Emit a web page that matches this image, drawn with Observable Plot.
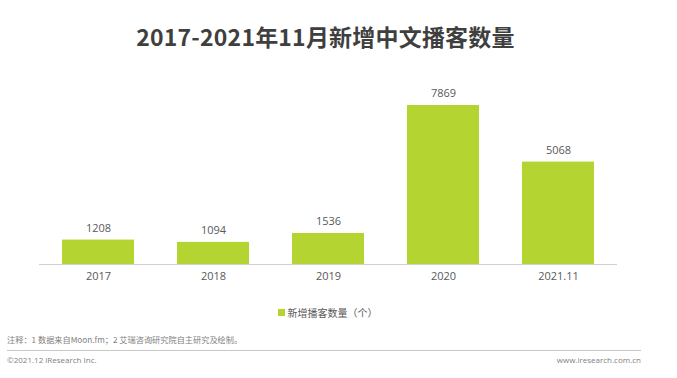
<!DOCTYPE html>
<html>
<head>
<meta charset="utf-8">
<script src="https://cdn.jsdelivr.net/npm/d3@7"></script>
<script src="https://cdn.jsdelivr.net/npm/@observablehq/plot@0.6"></script>
<style>
  html, body { margin: 0; padding: 0; background: #fff; }
  body { width: 677px; height: 378px; position: relative; overflow: hidden; font-family: "Noto Sans CJK SC", "Noto Sans", sans-serif; }
  #title { position: absolute; top: 19px; left: 0; width: 651px; text-align: center; font-size: 23px; font-weight: bold; color: #3f3f3f; letter-spacing: 0.2px; }
  #chart { position: absolute; top: 80px; left: 0; }
  #legend { position: absolute; top: 305px; left: 0; width: 677px; text-align: center; font-size: 10px; color: #595959; padding-right: 22px; box-sizing: border-box; }
  #legend .sw { display: inline-block; width: 7px; height: 7px; background: #b4d432; margin-right: 3px; vertical-align: 1px; }
  #note { position: absolute; top: 333px; left: 7px; font-size: 8.2px; color: #7f7f7f; }
  #hr { position: absolute; top: 350px; left: 7px; width: 634px; height: 1px; background: #c8c8c8; }
  #copy { position: absolute; top: 354px; left: 7px; font-size: 8px; color: #7f7f7f; font-family: "Open Sans", "Noto Sans", sans-serif; }
  #web { position: absolute; top: 354px; right: 36px; font-size: 8px; color: #7f7f7f; font-family: "Open Sans", "Noto Sans", sans-serif; }
</style>
</head>
<body>
<div id="title">2017-2021年11月新增中文播客数量</div>
<div id="chart"></div>
<div id="legend"><span class="sw"></span>新增播客数量（个）</div>
<div id="note">注释：1 数据来自Moon.fm；2 艾瑞咨询研究院自主研究及绘制。</div>
<div id="hr"></div>
<div id="copy">©2021.12 iResearch Inc.</div>
<div id="web">www.iresearch.com.cn</div>
<script>
const categories = ["2017", "2018", "2019", "2020", "2021.11"];
const values = [1208, 1094, 1536, 7869, 5068];
const seriesName = "新增播客数量（个）";

const data = categories.map((c, i) => ({category: c, value: values[i]}));

const chart = Plot.plot({
  width: 677,
  height: 210,
  marginLeft: 39,
  marginRight: 60,
  marginTop: 25,
  marginBottom: 26,
  style: {fontFamily: "'Open Sans', 'Noto Sans', sans-serif", fontSize: "11px", color: "#595959", background: "#fff"},
  x: {domain: categories, paddingInner: 0.37, paddingOuter: 0.185, label: null, tickSize: 0, tickPadding: 8},
  y: {domain: [0, 7869], axis: null},
  marks: [
    Plot.barY(data, {x: "category", y: "value", fill: "#b4d432"}),
    Plot.ruleY([0], {stroke: "#d0d0d0", strokeWidth: 1}),
    Plot.text(data, {x: "category", y: "value", text: d => String(d.value), dy: -12, fill: "#595959", fontSize: 11})
  ]
});
document.getElementById("chart").appendChild(chart);
</script>
</body>
</html>
